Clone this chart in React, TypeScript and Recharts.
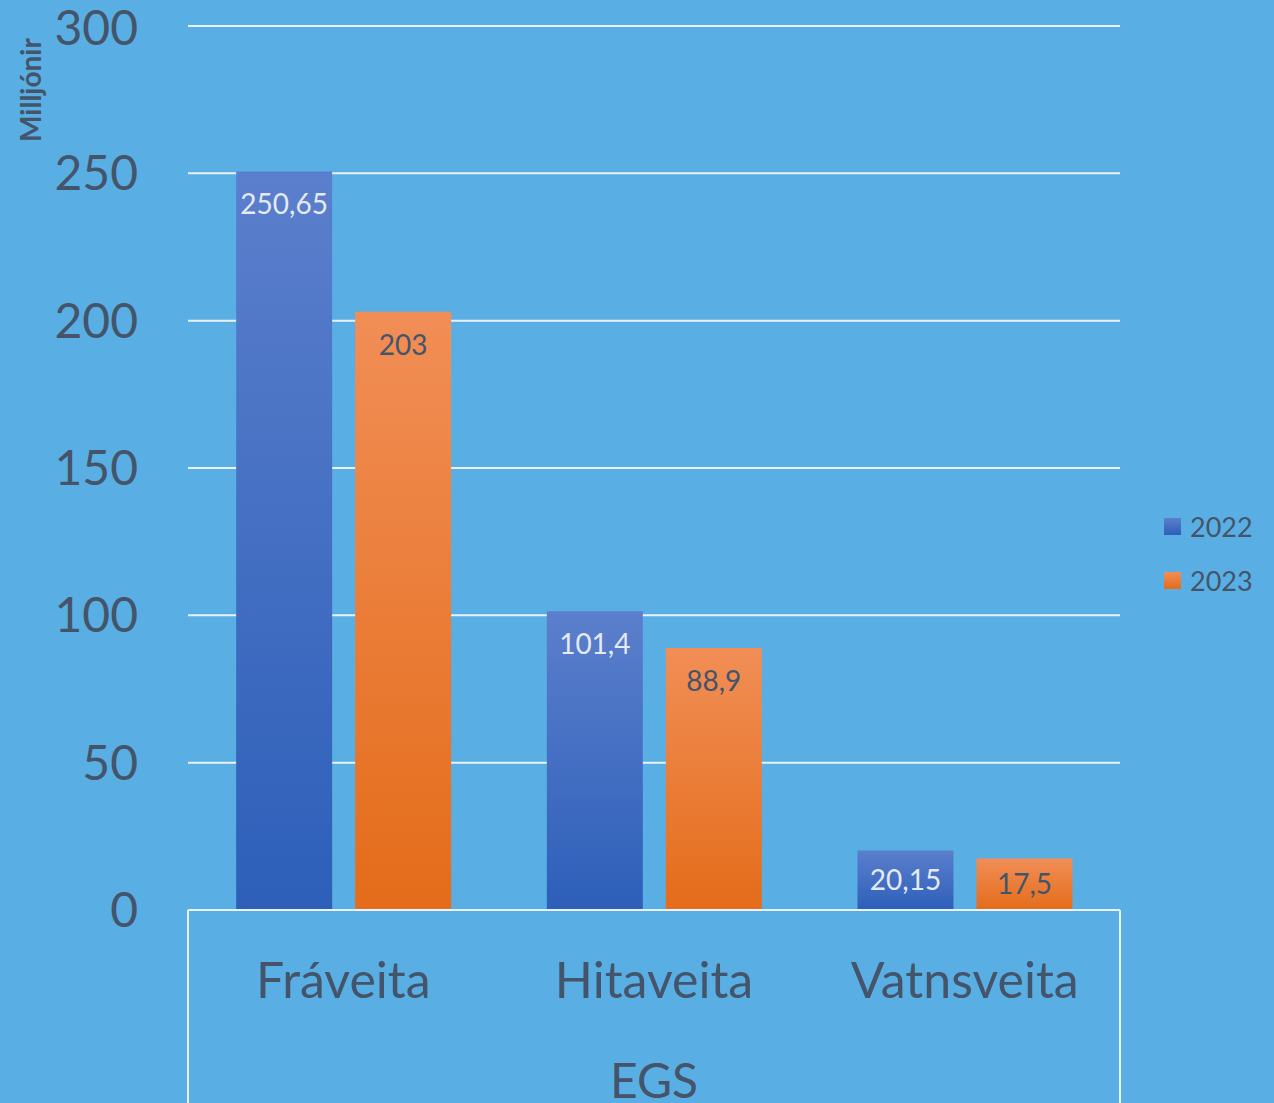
import { BarChart, Bar, XAxis, YAxis, CartesianGrid, LabelList } from 'recharts'

const categories = ['Fráveita', 'Hitaveita', 'Vatnsveita']
const values2022 = [250.65, 101.4, 20.15]
const values2023 = [203, 88.9, 17.5]
const yTicks = [0, 50, 100, 150, 200, 250, 300]
const groupLabel = 'EGS'
const yTitle = 'Milljónir'
const seriesNames = ['2022', '2023']

const W = 1274
const H = 1103
const PLOT_LEFT = 188
const PLOT_RIGHT = 1120
const PLOT_TOP = 26
const PLOT_BOTTOM = 910

const BG = '#59AFE3'
const TEXT = '#44546A'
const FONT = 'Lato, "Open Sans", sans-serif'

const data = categories.map((name, i) => ({
  name,
  y2022: values2022[i],
  y2023: values2023[i],
}))

const fmt = (v: any) => String(v).replace('.', ',')

// inside-end label like Excel: near the top, centered if the bar is short
const makeLabel = (color: string) => (p: any) => {
  const { x, y, width, height, value } = p
  const cy = Math.min(y + 33, y + height / 2)
  return (
    <text
      x={x + width / 2}
      y={cy}
      dy="0.35em"
      textAnchor="middle"
      fill={color}
      fontSize={28}
      fontFamily={FONT}
    >
      {fmt(value)}
    </text>
  )
}

function CatTick(props: any) {
  const { x, y, payload } = props
  return (
    <text x={x} y={y + 80} textAnchor="middle" fill={TEXT} fontSize={50} fontFamily={FONT}>
      {payload.value}
    </text>
  )
}

function LegendBox() {
  const grads = [
    ['#5B7FCC', '#2D5FB9'],
    ['#F18E56', '#E46C1A'],
  ]
  return (
    <div style={{ position: 'absolute', left: 1164, top: 499, fontFamily: FONT }}>
      {seriesNames.map((label, i) => (
        <div key={label} style={{ display: 'flex', alignItems: 'center', height: 54 }}>
          <svg width={17} height={17} style={{ marginRight: 9 }}>
            <defs>
              <linearGradient id={'lg' + i} x1="0" y1="0" x2="0" y2="1">
                <stop offset="0%" stopColor={grads[i][0]} />
                <stop offset="100%" stopColor={grads[i][1]} />
              </linearGradient>
            </defs>
            <rect width={17} height={17} fill={'url(#lg' + i + ')'} />
          </svg>
          <span style={{ fontSize: 27, color: TEXT }}>{label}</span>
        </div>
      ))}
    </div>
  )
}

export default function App() {
  const line = { position: 'absolute' as const, background: '#EAF1F8' }
  return (
    <div style={{ position: 'absolute', left: 0, top: 0, width: W, height: H, background: BG, overflow: 'hidden' }}>
      <BarChart
        width={W}
        height={H}
        data={data}
        margin={{ top: PLOT_TOP, right: W - PLOT_RIGHT, bottom: 0, left: 0 }}
        barCategoryGap="15.5%"
        barGap={23}
      >
        <defs>
          <linearGradient id="gBlue" x1="0" y1="0" x2="0" y2="1">
            <stop offset="0%" stopColor="#5B7FCC" />
            <stop offset="100%" stopColor="#2D5FB9" />
          </linearGradient>
          <linearGradient id="gOrange" x1="0" y1="0" x2="0" y2="1">
            <stop offset="0%" stopColor="#F18E56" />
            <stop offset="100%" stopColor="#E46C1A" />
          </linearGradient>
        </defs>
        <CartesianGrid vertical={false} stroke="#EAF1F8" strokeWidth={2} />
        <XAxis
          dataKey="name"
          height={H - PLOT_BOTTOM}
          tick={<CatTick />}
          tickLine={false}
          axisLine={{ stroke: '#EAF1F8', strokeWidth: 2 }}
          interval={0}
        />
        <YAxis
          width={PLOT_LEFT}
          domain={[0, 300]}
          ticks={yTicks}
          tickLine={false}
          axisLine={false}
          tickMargin={44}
          tick={{ fill: TEXT, fontSize: 48, fontFamily: FONT }}
          label={() => (
            <text
              x={0}
              y={0}
              transform="translate(41, 90) rotate(-90)"
              textAnchor="middle"
              fill={TEXT}
              fontSize={28}
              fontWeight="bold"
              fontFamily={FONT}
            >
              {yTitle}
            </text>
          )}
        />
        <Bar dataKey="y2022" name={seriesNames[0]} fill="url(#gBlue)" isAnimationActive={false}>
          <LabelList dataKey="y2022" content={makeLabel('#E4EAF3')} />
        </Bar>
        <Bar dataKey="y2023" name={seriesNames[1]} fill="url(#gOrange)" isAnimationActive={false}>
          <LabelList dataKey="y2023" content={makeLabel(TEXT)} />
        </Bar>
      </BarChart>
      <LegendBox />
      <div style={{ ...line, left: PLOT_LEFT - 1, top: PLOT_BOTTOM, width: 2, height: H - PLOT_BOTTOM }} />
      <div style={{ ...line, left: PLOT_RIGHT - 1, top: PLOT_BOTTOM, width: 2, height: H - PLOT_BOTTOM }} />
      <div
        style={{
          position: 'absolute',
          left: PLOT_LEFT,
          width: PLOT_RIGHT - PLOT_LEFT,
          top: 1052,
          textAlign: 'center',
          fontFamily: FONT,
          fontSize: 48,
          color: TEXT,
          lineHeight: '56px',
        }}
      >
        {groupLabel}
      </div>
    </div>
  )
}
